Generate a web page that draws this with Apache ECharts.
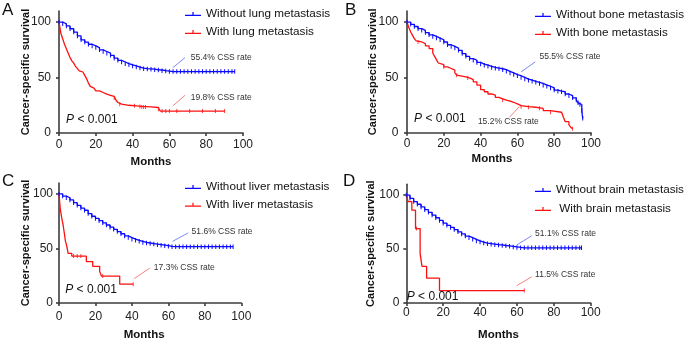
<!DOCTYPE html>
<html><head><meta charset="utf-8">
<script src="https://cdn.jsdelivr.net/npm/echarts@6/dist/echarts.min.js"></script>
<style>html,body{margin:0;padding:0;background:#fff}#c{width:685px;height:342px}</style>
</head><body><div id="c"></div>
<script>
// ---------- data ----------
const panelLetters = ['A', 'B', 'C', 'D'];
const xTicks = [0, 20, 40, 60, 80, 100];
const yTicks = [0, 50, 100];
const withoutNames = ['Without lung metastasis', 'Without bone metastasis', 'Without liver metastasis', 'Without brain metastasis'];
const withNames = ['With lung metastasis', 'With bone metastasis', 'With liver metastasis', 'With brain metastasis'];
const withoutRates = ['55.4% CSS rate', '55.5% CSS rate', '51.6% CSS rate', '51.1% CSS rate'];
const withRates = ['19.8% CSS rate', '15.2% CSS rate', '17.3% CSS rate', '11.5% CSS rate'];
const pValueText = 'P < 0.001';

// Kaplan-Meier curves: [month, survival %]
const lungWithout = [[0,100],[2,98.5],[4,96.5],[6,94],[8,91],[10,87.5],[12,84],[14,82],[16,80],[18,78.5],[20,77],[22,75],[24,73.5],[26,72],[28,70],[30,67.5],[32,65.5],[34,64],[36,62.5],[38,61.5],[40,60.5],[42,59.5],[44,58.5],[46,58],[48,57.8],[50,57.5],[52,57],[54,56.8],[56,56.2],[58,55.8],[60,55.4],[62,55.4],[64,55.4],[66,55.4],[68,55.4],[70,55.4],[72,55.4],[74,55.4],[76,55.4],[78,55.4],[80,55.4],[82,55.4],[84,55.4],[86,55.4],[88,55.4],[90,55.4],[92,55.4],[94,55.4],[95.5,55.4]];
const lungWith = [[0,100],[0.5,95],[1,90],[2,85],[3,80],[4,76],[5,72],[6,68],[7,65],[8,63],[9,60],[10,58],[11,56],[12,55],[13,53.5],[14,52],[15,49],[16,45],[17,42],[18,40.5],[19,39],[20,38],[22,36.5],[24,35],[26,34],[28,33],[30,31.5],[31,29.5],[32,27.5],[33,26],[34,25],[38,24.5],[42,24],[45,23.5],[50,23],[54,21.5],[55,19.8],[90,19.8]];
const lungWithCensor = [30,33,41,44,45,46,47,54,56,58,60,64,71,78,85,90];

const boneWithout = [[0,100],[2,98],[4,96],[6,94],[8,92.5],[10,90.5],[12,88.5],[14,87],[16,85.5],[18,84],[20,82],[22,79.5],[24,78],[26,76.5],[28,74.5],[30,71.5],[32,69],[34,67],[36,65.5],[38,63.5],[40,62],[42,61],[44,60],[46,59],[48,58.3],[50,57.8],[52,57],[54,55.5],[56,54],[58,52.5],[60,51.5],[62,50],[64,48.5],[66,47.5],[68,46.5],[70,45.5],[72,44.5],[74,43],[76,42],[78,40.5],[80,38.5],[82,37.5],[84,37],[86,35],[88,33.5],[90,31.5],[92,29.5],[93,27],[94,25.5],[95,20],[95.5,13]];
const boneWith = [[0,100],[1,95],[2,91],[3,88],[4,85],[5,83],[6,82],[8,80.5],[10,78.5],[12,76],[14,72],[15,69],[16,66],[17,63],[18,61.5],[20,59.5],[22,58],[24,56.5],[26,54],[27,52],[28,50.5],[32,49.5],[34,48],[36,46],[38,43],[40,39],[42,37],[44,35],[46,34],[48,32],[50,30.5],[52,29.5],[54,28.5],[56,27.5],[58,26],[60,24.5],[62,23.5],[66,23],[70,22],[74,20],[78,18.5],[84,17.5],[85,14],[86,10],[88,7],[89,5],[90,3.5]];
const boneWithCensor = [6,20,27,33,52,62,66,72,78,90];

const liverWithout = [[0,100],[2,98],[4,96.5],[6,94.5],[8,92],[10,89.5],[12,87],[14,85],[16,82],[18,79.5],[20,77.5],[22,75.5],[24,73.5],[26,71.5],[28,69.5],[30,67.5],[32,65.5],[34,63.5],[36,61.5],[38,60],[40,58.5],[42,57.5],[44,56.5],[46,55.5],[48,55],[50,54.5],[52,54],[54,53.5],[56,53],[58,52.5],[60,52],[62,51.6],[64,51.6],[66,51.6],[68,51.6],[70,51.6],[72,51.6],[74,51.6],[76,51.6],[78,51.6],[80,51.6],[82,51.6],[84,51.6],[86,51.6],[88,51.6],[90,51.6],[92,51.6],[94,51.6],[95.5,51.6]];
const liverWith = [[0,100],[0.7,86],[1.2,81],[1.7,76],[2.2,72],[3,63],[3.5,57],[4,54],[4.5,50],[5,45.5],[7,43],[15,38],[18.5,33.6],[22.3,29],[23.3,24.7],[33.3,17.3],[40.7,17.3]];
const liverWithCensor = [8,10,12,24,40.7];

const brainWithout = [[0,100],[2,97],[4,94],[6,91.5],[8,89],[10,86.5],[12,84],[14,81.5],[16,79],[18,76.5],[20,74],[22,72],[24,70],[26,68],[28,66],[30,64],[32,62],[34,60.5],[36,59],[38,57.5],[40,56.5],[42,55.5],[44,55],[46,54.5],[48,54],[50,53.8],[52,53.3],[54,53],[56,52.5],[58,52],[60,51.5],[62,51.1],[64,51.1],[66,51.1],[68,51.1],[70,51.1],[72,51.1],[74,51.1],[76,51.1],[78,51.1],[80,51.1],[82,51.1],[84,51.1],[86,51.1],[88,51.1],[90,51.1],[92,51.1],[94,51.1],[95,51.1]];
const brainWith = [[0,100],[1,94],[3,86],[5,69],[7.5,46],[8.5,34],[11,23],[18,11.5],[64,11.5]];
const brainWithCensor = [5.5,64];

// ---------- layout / styling ----------
const FONT = '"Liberation Sans", Arial, sans-serif';
const BLUE = '#0a0aff', RED = '#ff1010';
const panels = [
  { grid:{left:59, top:11, width:184, height:122}, letter:[2,11], legend:{left:185, top:7, gap:4},
    without:lungWithout, withD:lungWith, censor:lungWithCensor,
    bText:[71.6,68], bArrow:[[68.5,68],[61.8,58.8]], rText:[71.6,31.8], rArrow:[[68.5,34],[61.8,24.3]], p:[3.8,12],
    yGap:28, xGap:23, xPad:[0,0,0,0], xMargin:6, yMargin:8 },
  { grid:{left:407, top:11, width:184, height:121.7}, letter:[345,11], legend:{left:535, top:8, gap:4},
    without:boneWithout, withD:boneWith, censor:boneWithCensor,
    bText:[72,68.7], bArrow:[[69.7,64],[62,55]], rText:[38.5,10], rArrow:[[55.7,13.9],[61,23.5]], p:[3.8,13],
    yGap:29, xGap:20, xPad:[0,14,0,0], xMargin:5, yMargin:8.5 },
  { grid:{left:59, top:183, width:182.3, height:123}, letter:[2,182], legend:{left:185, top:180, gap:3.7},
    without:liverWithout, withD:liverWith, censor:liverWithCensor,
    bText:[72.7,65.8], bArrow:[[70.9,64.3],[62.3,56.5]], rText:[52,32.7], rArrow:[[49.8,32],[41.2,22.3]], p:[3.4,12.2],
    yGap:28, xGap:26, xPad:[0,12,0,0], xMargin:8, yMargin:6 },
  { grid:{left:406.3, top:184.3, width:184.4, height:120.7}, letter:[343,182], legend:{left:535, top:183, gap:5},
    without:brainWithout, withD:brainWith, censor:brainWithCensor,
    bText:[69.8,64.4], bArrow:[[68,62.3],[59.9,53.8]], rText:[69.8,26.4], rArrow:[[68,24.3],[59.9,16.1]], p:[0.2,6],
    yGap:30, xGap:26, xPad:[0,0,0,0], xMargin:4, yMargin:7 }
];

function survivalAt(steps, t) {
  let v = steps[0][1];
  for (const s of steps) { if (s[0] <= t) v = s[1]; else break; }
  return v;
}

const grids = [], xAxes = [], yAxes = [], series = [], legends = [], graphics = [];
const axisLineStyle = { color: '#3c3c3c', width: 1.6 };
const iconPath = 'path://M0,4L18,4L18,5.4L0,5.4ZM8.3,1L9.7,1L9.7,5L8.3,5Z';

panels.forEach((p, i) => {
  grids.push(Object.assign({ containLabel: false }, p.grid));
  xAxes.push({
    type: 'value', gridIndex: i, min: 0, max: 100, interval: 20,
    name: 'Months', nameLocation: 'middle', nameGap: p.xGap,
    nameTextStyle: { fontFamily: FONT, fontSize: 11.5, fontWeight: 'bold', color: '#111', padding: p.xPad },
    axisLine: { show: true, onZero: false, lineStyle: axisLineStyle },
    axisTick: { show: true, length: 3, lineStyle: axisLineStyle },
    axisLabel: { fontFamily: FONT, fontSize: 12, color: '#222', margin: p.xMargin, customValues: xTicks },
    splitLine: { show: false }
  });
  yAxes.push({
    type: 'value', gridIndex: i, min: 0, max: 110,
    name: 'Cancer-specific survival', nameLocation: 'middle', nameGap: p.yGap, nameMoveOverlap: false,
    nameTextStyle: { fontFamily: FONT, fontSize: 11, fontWeight: 'bold', color: '#111' },
    axisLine: { show: true, onZero: false, lineStyle: axisLineStyle },
    axisTick: { show: true, length: 3, lineStyle: axisLineStyle, customValues: yTicks },
    axisLabel: { fontFamily: FONT, fontSize: 12, color: '#222', margin: p.yMargin, customValues: yTicks },
    splitLine: { show: false }
  });
  const annoLabel = { fontFamily: FONT, fontSize: 8.5, color: '#333' };
  series.push({
    type: 'line', name: withoutNames[i], xAxisIndex: i, yAxisIndex: i, data: p.without, step: 'end',
    color: BLUE, lineStyle: { color: BLUE, width: 1.3 },
    symbol: 'rect', symbolSize: [1, 4.5], showSymbol: true, itemStyle: { color: BLUE },
    animation: false, silent: true, z: 3,
    markPoint: {
      silent: true, animation: false, symbol: 'circle', symbolSize: 0.1,
      itemStyle: { color: 'rgba(0,0,0,0)' },
      label: Object.assign({ show: true, position: 'right', distance: 0 }, annoLabel),
      data: [
        { coord: p.bText, value: withoutRates[i], label: { formatter: withoutRates[i] } }
      ]
    },
    markLine: {
      silent: true, animation: false, symbol: ['none', 'arrow'], symbolSize: [0, 5],
      lineStyle: { color: '#5b6cf2', width: 0.8, type: 'solid' }, label: { show: false },
      data: [[{ coord: p.bArrow[0] }, { coord: p.bArrow[1] }]]
    }
  });
  series.push({
    type: 'line', name: withNames[i], xAxisIndex: i, yAxisIndex: i, data: p.withD, step: 'end',
    color: RED, lineStyle: { color: RED, width: 1.3 }, showSymbol: false, itemStyle: { color: RED },
    animation: false, silent: true, z: 3,
    markPoint: {
      silent: true, animation: false, symbol: 'circle', symbolSize: 0.1,
      itemStyle: { color: 'rgba(0,0,0,0)' },
      label: Object.assign({ show: true, position: 'right', distance: 0 }, annoLabel),
      data: [
        { coord: p.rText, value: withRates[i], label: { formatter: withRates[i] } },
        { coord: p.p, value: pValueText, label: {
            formatter: '{i|P}{n| < 0.001}',
            rich: { i: { fontFamily: FONT, fontSize: 12, fontStyle: 'italic', color: '#111' },
                    n: { fontFamily: FONT, fontSize: 12, color: '#111' } } } }
      ]
    },
    markLine: {
      silent: true, animation: false, symbol: ['none', 'arrow'], symbolSize: [0, 5],
      lineStyle: { color: '#f26060', width: 0.8, type: 'solid' }, label: { show: false },
      data: [[{ coord: p.rArrow[0] }, { coord: p.rArrow[1] }]]
    }
  });
  series.push({
    type: 'scatter', name: withNames[i] + ' censored', xAxisIndex: i, yAxisIndex: i,
    data: p.censor.map(t => [t, survivalAt(p.withD, t)]),
    symbol: 'rect', symbolSize: [1, 4], itemStyle: { color: RED }, animation: false, silent: true, z: 4
  });
  legends.push({
    data: [{ name: withoutNames[i], icon: iconPath }, { name: withNames[i], icon: iconPath }],
    orient: 'vertical', left: p.legend.left, top: p.legend.top, padding: 0,
    itemWidth: 16, itemHeight: 6, itemGap: p.legend.gap, selectedMode: false,
    formatter: n => (n === 'With brain metastasis' ? ' ' + n : n),
    textStyle: { fontFamily: FONT, fontSize: 11.7, color: '#111', lineHeight: 14 }
  });
  graphics.push({
    type: 'text', left: p.letter[0], top: p.letter[1] - 9,
    style: { text: panelLetters[i], fontFamily: FONT, fontSize: 17, fill: '#111' }
  });
});

const chart = echarts.init(document.getElementById('c'), null, { renderer: 'canvas' });
chart.setOption({
  animation: false, backgroundColor: '#fff',
  grid: grids, xAxis: xAxes, yAxis: yAxes, series: series, legend: legends, graphic: graphics
});
</script></body></html>
